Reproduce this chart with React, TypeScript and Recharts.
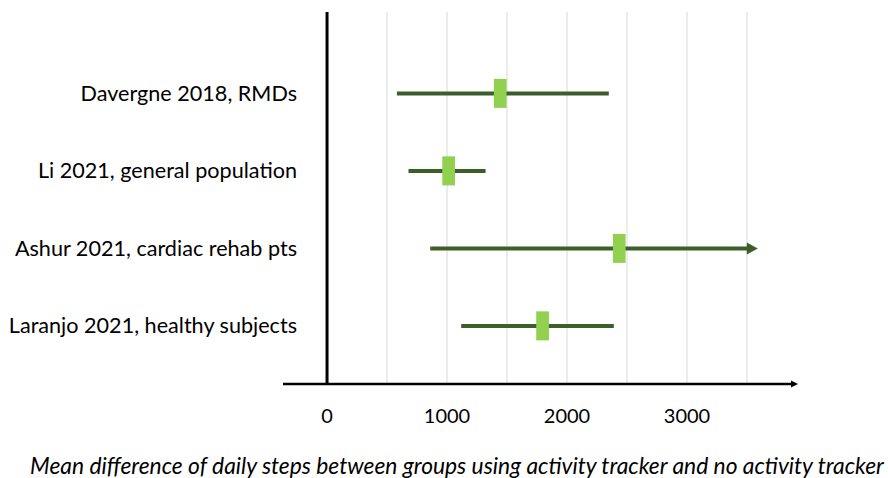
import React from "react";
import { ComposedChart, XAxis, YAxis, Scatter, ReferenceLine } from "recharts";

const studies = [
  "Davergne 2018, RMDs",
  "Li 2021, general population",
  "Ashur 2021, cardiac rehab pts",
  "Laranjo 2021, healthy subjects",
];
const rowPos = [4, 3, 2, 1];
const means = [1443, 1013, 2435, 1796];
const lower = [582, 679, 860, 1118];
const upper = [2340, 1313, 3590, 2382];
const truncated = [false, false, true, false];
const xTicks = [0, 1000, 2000, 3000];
const gridValues = [500, 1000, 1500, 2000, 2500, 3000, 3500];

const FONT = "Lato, 'Open Sans', sans-serif";
const DARK = "#3B5E2B";
const LIGHT = "#92D050";

const points = studies.map((name, i) => ({ name, x: means[i], y: rowPos[i] }));

function ArrowLine(props: any) {
  const { x1, y1, x2, y2, stroke, strokeWidth, head } = props;
  const len = head ? head[0] : 0;
  const half = head ? head[1] : 0;
  return (
    <g>
      <line x1={x1} y1={y1} x2={x2 - len + 1} y2={y2} stroke={stroke} strokeWidth={strokeWidth} />
      {head && (
        <polygon points={`${x2},${y2} ${x2 - len},${y2 - half} ${x2 - len},${y2 + half}`} fill={stroke} />
      )}
    </g>
  );
}

function StudyTick(props: any) {
  const { x, y, payload } = props;
  const label = studies[rowPos.indexOf(payload.value)];
  return (
    <text x={x + 14} y={y} dy="0.35em" textAnchor="end" fill="#000" fontFamily={FONT} fontSize={21.6}>
      {label}
    </text>
  );
}

function Marker(props: any) {
  const { cx, cy } = props;
  return <rect x={cx - 6.3} y={cy - 14.5} width={12.7} height={29} fill={LIGHT} />;
}

export default function App() {
  return (
    <div style={{ position: "absolute", left: 0, top: 0, width: 888, height: 478, background: "#fff" }}>
      <ComposedChart width={888} height={478} margin={{ top: 12, right: 90, bottom: 0, left: 0 }}>
        <XAxis
          type="number"
          dataKey="x"
          domain={[-367, 3925]}
          ticks={xTicks}
          axisLine={false}
          tickLine={false}
          tickSize={0}
          tickMargin={25}
          height={94}
          tick={{ fill: "#000", fontFamily: FONT, fontSize: 20 }}
        />
        <YAxis
          type="number"
          dataKey="y"
          domain={[0.25, 5.05]}
          ticks={rowPos}
          axisLine={false}
          tickLine={false}
          tickSize={0}
          tickMargin={0}
          width={283}
          tick={<StudyTick />}
        />
        {gridValues.map((v) => (
          <ReferenceLine key={v} x={v} stroke="#d9d9d9" strokeWidth={1} />
        ))}
        <ReferenceLine x={0} stroke="#000" strokeWidth={3} />
        <ReferenceLine
          y={0.25}
          stroke="#000"
          strokeWidth={2.5}
          shape={(p: any) => <ArrowLine {...p} stroke="#000" strokeWidth={2.5} head={[7, 3.5]} />}
        />
        {studies.map((name, i) => (
          <ReferenceLine
            key={name}
            segment={[
              { x: lower[i], y: rowPos[i] },
              { x: upper[i], y: rowPos[i] },
            ]}
            stroke={DARK}
            strokeWidth={4}
            shape={(p: any) => (
              <ArrowLine {...p} stroke={DARK} strokeWidth={4} head={truncated[i] ? [11, 6] : null} />
            )}
          />
        ))}
        <Scatter data={points} shape={<Marker />} isAnimationActive={false} />
      </ComposedChart>
      <div
        style={{
          position: "absolute",
          left: 0,
          width: 914,
          top: 451,
          textAlign: "center",
          fontFamily: FONT,
          fontStyle: "italic",
          fontSize: 22.8,
          color: "#000",
          whiteSpace: "nowrap",
        }}
      >
        Mean difference of daily steps between groups using activity tracker and no activity tracker
      </div>
    </div>
  );
}
